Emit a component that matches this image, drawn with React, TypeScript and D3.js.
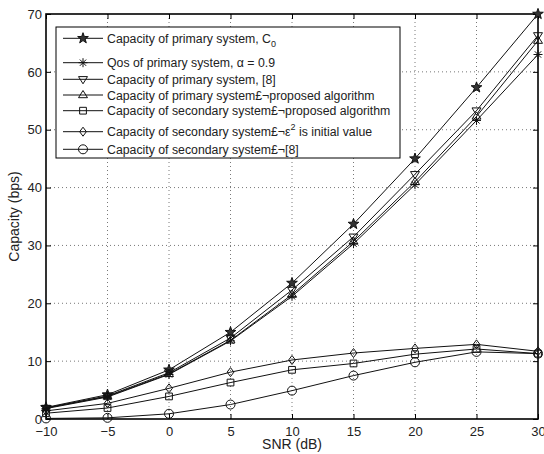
import { useEffect, useRef } from "react";
import * as d3 from "d3";

const snr = [-10, -5, 0, 5, 10, 15, 20, 25, 30];
const capPrimaryC0 = [2.0, 4.2, 8.5, 15.0, 23.5, 33.7, 45.0, 57.3, 70.0];
const qosPrimary = [1.8, 3.8, 7.7, 13.5, 21.2, 30.3, 40.5, 51.6, 63.0];
const capPrimaryRef8 = [1.9, 4.0, 8.0, 14.0, 22.3, 31.5, 42.3, 53.3, 66.3];
const capPrimaryProposed = [1.9, 3.9, 7.8, 13.6, 21.5, 30.7, 41.0, 52.3, 65.4];
const capSecondaryProposed = [1.0, 1.9, 3.9, 6.3, 8.5, 9.6, 11.2, 12.1, 11.3];
const capSecondaryEps = [1.4, 2.7, 5.3, 8.1, 10.2, 11.4, 12.2, 12.9, 11.7];
const capSecondaryRef8 = [0.1, 0.2, 0.9, 2.5, 4.9, 7.5, 9.8, 11.6, 11.3];

const xTicks = [-10, -5, 0, 5, 10, 15, 20, 25, 30];
const yTicks = [0, 10, 20, 30, 40, 50, 60, 70];

const series = [
  { name: "Capacity of primary system, C", sub: "0", sup: "", rest: "", marker: "star", values: capPrimaryC0 },
  { name: "Qos of primary system, \u03b1 = 0.9", sub: "", sup: "", rest: "", marker: "asterisk", values: qosPrimary },
  { name: "Capacity of primary system, [8]", sub: "", sup: "", rest: "", marker: "tridown", values: capPrimaryRef8 },
  { name: "Capacity of primary system\u00a3\u00acproposed algorithm", sub: "", sup: "", rest: "", marker: "triup", values: capPrimaryProposed },
  { name: "Capacity of secondary system\u00a3\u00acproposed algorithm", sub: "", sup: "", rest: "", marker: "square", values: capSecondaryProposed },
  { name: "Capacity of secondary system\u00a3\u00ac\u03b5", sub: "", sup: "2", rest: " is initial value", marker: "diamond", values: capSecondaryEps },
  { name: "Capacity of secondary system\u00a3\u00ac[8]", sub: "", sup: "", rest: "", marker: "circle", values: capSecondaryRef8 },
];

function markerPath(kind: string, r: number) {
  switch (kind) {
    case "star": {
      const pts: string[] = [];
      for (let i = 0; i < 10; i++) {
        const a = -Math.PI / 2 + (i * Math.PI) / 5;
        const rr = i % 2 === 0 ? r * 1.25 : r * 0.5;
        pts.push(`${rr * Math.cos(a)},${rr * Math.sin(a)}`);
      }
      return "M" + pts.join("L") + "Z";
    }
    case "asterisk": {
      const d = r * 0.7;
      return `M${-r},0L${r},0M0,${-r}L0,${r}M${-d},${-d}L${d},${d}M${-d},${d}L${d},${-d}`;
    }
    case "tridown":
      return `M${-r},${-r * 0.6}L${r},${-r * 0.6}L0,${r}Z`;
    case "triup":
      return `M${-r},${r * 0.6}L${r},${r * 0.6}L0,${-r}Z`;
    case "square":
      return `M${-r * 0.75},${-r * 0.75}h${r * 1.5}v${r * 1.5}h${-r * 1.5}Z`;
    case "diamond":
      return `M0,${-r}L${r * 0.75},0L0,${r}L${-r * 0.75},0Z`;
    default:
      return d3.symbol(d3.symbolCircle, Math.PI * r * r)() as string;
  }
}

export default function App() {
  const ref = useRef<SVGSVGElement>(null);

  useEffect(() => {
    const width = 544,
      height = 454,
      margin = { top: 14, right: 6, bottom: 35, left: 46 };
    const innerW = width - margin.left - margin.right;
    const innerH = height - margin.top - margin.bottom;

    const root = d3.select(ref.current);
    root.selectAll("*").remove();

    const svg = root
      .append("g")
      .attr("transform", `translate(${margin.left},${margin.top})`);

    const x = d3.scaleLinear().domain([-10, 30]).range([0, innerW]);
    const y = d3.scaleLinear().domain([0, 70]).range([innerH, 0]);

    svg.append("rect").attr("width", innerW).attr("height", innerH).attr("fill", "#fff");

    // dotted grid
    svg
      .selectAll(".gx")
      .data(xTicks.slice(1, -1))
      .enter()
      .append("line")
      .attr("x1", (d) => x(d))
      .attr("x2", (d) => x(d))
      .attr("y1", 0)
      .attr("y2", innerH)
      .attr("stroke", "#555")
      .attr("stroke-width", 0.8)
      .attr("stroke-dasharray", "1,3");
    svg
      .selectAll(".gy")
      .data(yTicks.slice(1, -1))
      .enter()
      .append("line")
      .attr("y1", (d) => y(d))
      .attr("y2", (d) => y(d))
      .attr("x1", 0)
      .attr("x2", innerW)
      .attr("stroke", "#555")
      .attr("stroke-width", 0.8)
      .attr("stroke-dasharray", "1,3");

    // axes with inward ticks, MATLAB style
    const font = "Liberation Sans, Arial, sans-serif";
    const bottom = svg
      .append("g")
      .attr("transform", `translate(0,${innerH})`)
      .call(d3.axisBottom(x).tickValues(xTicks).tickSizeInner(-5).tickSizeOuter(0).tickPadding(8).tickFormat((d) => String(d).replace("-", "\u2212")));
    const left = svg
      .append("g")
      .call(d3.axisLeft(y).tickValues(yTicks).tickSizeInner(-5).tickSizeOuter(0).tickPadding(4));
    svg
      .append("g")
      .call(d3.axisTop(x).tickValues(xTicks).tickSizeInner(-5).tickSizeOuter(0).tickFormat(() => ""));
    svg
      .append("g")
      .attr("transform", `translate(${innerW},0)`)
      .call(d3.axisRight(y).tickValues(yTicks).tickSizeInner(-5).tickSizeOuter(0).tickFormat(() => ""));

    svg.selectAll(".domain").remove();
    svg.selectAll(".tick line").attr("stroke", "#000");
    [bottom, left].forEach((g) =>
      g.selectAll("text").style("font-size", "13px").style("font-family", font).attr("fill", "#222")
    );

    svg
      .append("rect")
      .attr("width", innerW)
      .attr("height", innerH)
      .attr("fill", "none")
      .attr("stroke", "#000")
      .attr("stroke-width", 1.6);

    // lines + markers
    const line = d3
      .line<number>()
      .x((_, i) => x(snr[i]))
      .y((d) => y(d));

    series.forEach((s) => {
      svg
        .append("path")
        .datum(s.values)
        .attr("fill", "none")
        .attr("stroke", "#111")
        .attr("stroke-width", 1)
        .attr("d", line);
      svg
        .selectAll(null)
        .data(s.values)
        .enter()
        .append("path")
        .attr("transform", (d, i) => `translate(${x(snr[i])},${y(d)})`)
        .attr("d", markerPath(s.marker, 4.5))
        .attr("fill", s.marker === "star" ? "#333" : "none")
        .attr("stroke", "#111")
        .attr("stroke-width", 1);
    });

    // legend
    const lg = svg.append("g").attr("transform", `translate(${56 - margin.left},${27 - margin.top})`);
    lg.append("rect")
      .attr("width", 344)
      .attr("height", 131)
      .attr("fill", "#fff")
      .attr("stroke", "#000")
      .attr("stroke-width", 1);
    const rowY = [11.3, 35.7, 52.3, 68, 83.7, 104.7, 122.3];
    series.forEach((s, i) => {
      const row = lg.append("g").attr("transform", `translate(0,${rowY[i]})`);
      row.append("line").attr("x1", 7).attr("x2", 47).attr("stroke", "#111").attr("stroke-width", 1);
      row
        .append("path")
        .attr("transform", "translate(27,0)")
        .attr("d", markerPath(s.marker, 4.5))
        .attr("fill", s.marker === "star" ? "#333" : "none")
        .attr("stroke", "#111");
      const t = row
        .append("text")
        .attr("x", 51)
        .attr("y", 4.5)
        .style("font-size", "12.3px")
        .style("font-family", font)
        .attr("fill", "#222")
        .text(s.name);
      if (s.sub) t.append("tspan").attr("dy", 4).style("font-size", "9px").text(s.sub);
      if (s.sup) t.append("tspan").attr("dy", -6).style("font-size", "9px").text(s.sup);
      if (s.rest) t.append("tspan").attr("dy", 6).text(s.rest);
    });

    // axis labels
    svg
      .append("text")
      .attr("x", innerW / 2)
      .attr("y", innerH + 30)
      .attr("text-anchor", "middle")
      .style("font-size", "14px")
      .style("font-family", font)
      .attr("fill", "#222")
      .text("SNR (dB)");
    svg
      .append("text")
      .attr("transform", "rotate(-90)")
      .attr("x", -innerH / 2)
      .attr("y", -27)
      .attr("text-anchor", "middle")
      .style("font-size", "14px")
      .style("font-family", font)
      .attr("fill", "#222")
      .text("Capacity (bps)");
  }, []);

  return (
    <svg
      ref={ref}
      width={544}
      height={454}
      style={{ position: "absolute", left: 0, top: 0, background: "#fff" }}
    />
  );
}
